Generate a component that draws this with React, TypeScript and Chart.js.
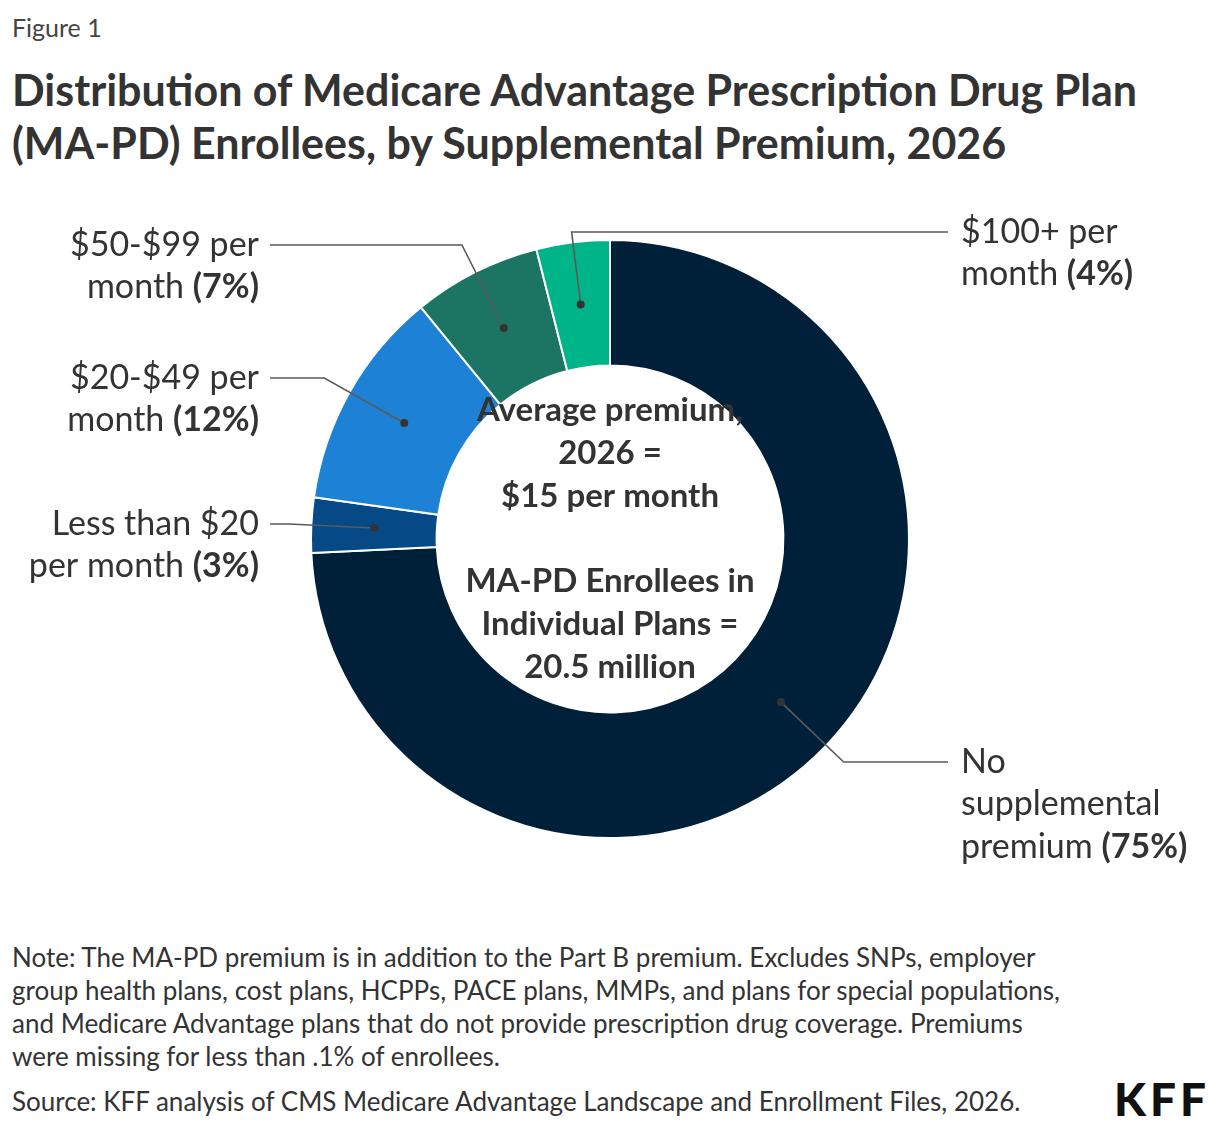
import React, { useEffect, useRef } from "react";
import { Chart, registerables } from "chart.js";

Chart.register(...registerables);

// Enrollee shares by monthly supplemental premium (percent, as published)
const categories = [
  "No supplemental premium",
  "Less than $20 per month",
  "$20-$49 per month",
  "$50-$99 per month",
  "$100+ per month",
];
const shares = [75, 3, 12, 7, 4];
const sliceColors = ["#00203a", "#054a87", "#1d82d5", "#1b7562", "#00b489"];

// Wrapped callout text for each category (percentage appended to the last line)
const labelLines = [
  ["No", "supplemental", "premium"],
  ["Less than $20", "per month"],
  ["$20-$49 per", "month"],
  ["$50-$99 per", "month"],
  ["$100+ per", "month"],
];

const dataYear = 2026;
const averagePremium = 15;
const enrolleesMillions = 20.5;

const FONT = "Lato, 'Noto Sans', sans-serif";
const TEXT = "#333333";

// Callout placement: side of the ring and vertical offset of the first text line from the centre
const labelSide = ["right", "left", "left", "left", "right"];
const labelOffsetY = [223, -15, -161, -294, -307];

const centerLines = [
  "Average premium,",
  `${dataYear} =`,
  `$${averagePremium} per month`,
  "",
  "MA-PD Enrollees in",
  "Individual Plans =",
  `${enrolleesMillions} million`,
];

const calloutPlugin = {
  id: "callouts",
  afterDraw(chart: any) {
    const ctx = chart.ctx as CanvasRenderingContext2D;
    const arcs = chart.getDatasetMeta(0).data as any[];
    if (!arcs.length) return;
    const cx = arcs[0].x;
    const cy = arcs[0].y;

    ctx.save();
    // centre annotation
    ctx.fillStyle = TEXT;
    ctx.font = `bold 33px ${FONT}`;
    ctx.textAlign = "center";
    ctx.textBaseline = "middle";
    const lh = 42.8;
    centerLines.forEach((line, i) => {
      if (line) ctx.fillText(line, cx, cy + (i - 3) * lh);
    });

    // leader lines, dots and category labels
    arcs.forEach((arc, i) => {
      const p = arc.getCenterPoint();
      const side = labelSide[i];
      const ly = cy + labelOffsetY[i];
      const dx = p.x - cx;
      const dy = p.y - cy;
      const lineEnd = side === "right" ? cx + 338 : cx - 340;
      let ex = Math.abs(dy) > 1e-6 ? cx + (dx * (ly - cy)) / dy : lineEnd;
      if (side === "left" && ex < lineEnd) ex = lineEnd;
      if (side === "right" && ex > lineEnd) ex = lineEnd;

      ctx.strokeStyle = "#5a5a5a";
      ctx.lineWidth = 1.6;
      ctx.beginPath();
      ctx.moveTo(p.x, p.y);
      ctx.lineTo(ex, ly);
      ctx.lineTo(lineEnd, ly);
      ctx.stroke();

      ctx.fillStyle = "#333333";
      ctx.beginPath();
      ctx.arc(p.x, p.y, 4, 0, Math.PI * 2);
      ctx.fill();

      const pct = Math.round(shares[i]);
      const lines = labelLines[i];
      const regular = `normal 34px ${FONT}`;
      const bold = `bold 34px ${FONT}`;
      ctx.textBaseline = "middle";
      ctx.textAlign = "left";
      lines.forEach((txt, j) => {
        const segs: [string, boolean][] =
          j === lines.length - 1
            ? [
                [txt + " ", false],
                [`(${pct}%)`, true],
              ]
            : [[txt, false]];
        let w = 0;
        segs.forEach(([s, b]) => {
          ctx.font = b ? bold : regular;
          w += ctx.measureText(s).width;
        });
        let x = side === "right" ? cx + 351 : cx - 351 - w;
        const y = ly + j * 42.5;
        ctx.fillStyle = TEXT;
        segs.forEach(([s, b]) => {
          ctx.font = b ? bold : regular;
          ctx.fillText(s, x, y);
          x += ctx.measureText(s).width;
        });
      });
    });
    ctx.restore();
  },
};

function DonutChart() {
  const ref = useRef<HTMLCanvasElement | null>(null);
  useEffect(() => {
    if (!ref.current) return;
    const chart = new Chart(ref.current, {
      type: "doughnut",
      data: {
        labels: categories,
        datasets: [
          {
            data: shares,
            backgroundColor: sliceColors,
            borderColor: "#ffffff",
            borderWidth: 2,
          },
        ],
      },
      options: {
        animation: false,
        responsive: false,
        cutout: "58%",
        events: [],
        layout: { padding: { left: 310, right: 310, top: 59, bottom: 61 } },
        plugins: { legend: { display: false }, tooltip: { enabled: false } },
      },
      plugins: [calloutPlugin],
    });
    return () => chart.destroy();
  }, []);
  return (
    <canvas
      ref={ref}
      width={1220}
      height={720}
      style={{ position: "absolute", left: 0, top: 180, width: 1220, height: 720 }}
    />
  );
}

export default function App() {
  return (
    <div
      style={{
        position: "absolute",
        left: 0,
        top: 0,
        width: 1220,
        height: 1128,
        background: "#ffffff",
        fontFamily: FONT,
        color: TEXT,
        overflow: "hidden",
      }}
    >
      <div style={{ position: "absolute", left: 12, top: 12, fontSize: 25, lineHeight: "30px", color: "#444" }}>
        Figure 1
      </div>
      <div
        style={{
          position: "absolute",
          left: 12,
          top: 63,
          fontSize: 43,
          lineHeight: "53px",
          fontWeight: 700,
          whiteSpace: "nowrap",
        }}
      >
        Distribution of Medicare Advantage Prescription Drug Plan
        <br />
        (MA-PD) Enrollees, by Supplemental Premium, {dataYear}
      </div>
      <DonutChart />
      <div
        style={{
          position: "absolute",
          left: 12,
          top: 941,
          fontSize: 26,
          lineHeight: "33px",
          whiteSpace: "nowrap",
        }}
      >
        Note: The MA-PD premium is in addition to the Part B premium. Excludes SNPs, employer
        <br />
        group health plans, cost plans, HCPPs, PACE plans, MMPs, and plans for special populations,
        <br />
        and Medicare Advantage plans that do not provide prescription drug coverage. Premiums
        <br />
        were missing for less than .1% of enrollees.
      </div>
      <div
        style={{
          position: "absolute",
          left: 12,
          top: 1085,
          fontSize: 26,
          lineHeight: "33px",
          whiteSpace: "nowrap",
        }}
      >
        Source: KFF analysis of CMS Medicare Advantage Landscape and Enrollment Files, {dataYear}.
      </div>
      <div
        style={{
          position: "absolute",
          left: 1114,
          top: 1074,
          fontSize: 46,
          lineHeight: "50px",
          fontWeight: 900,
          color: "#111",
          letterSpacing: 4,
        }}
      >
        KFF
      </div>
    </div>
  );
}
